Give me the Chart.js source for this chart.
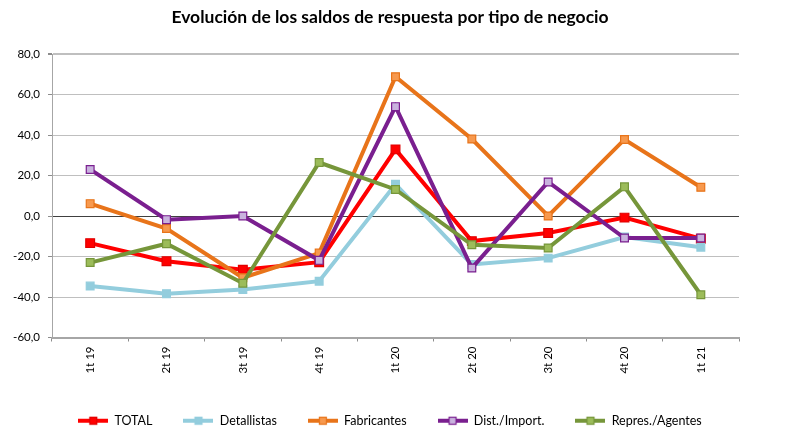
<!DOCTYPE html>
<html>
<head>
<meta charset="utf-8">
<script src="https://cdn.jsdelivr.net/npm/chart.js@4/dist/chart.umd.min.js"></script>
<style>
  html, body { margin: 0; padding: 0; background: #fff; }
  #wrap { width: 800px; height: 441px; position: relative; }
</style>
</head>
<body>
<div id="wrap"><canvas id="c" width="800" height="441"></canvas></div>
<script>
const categories = ['1t 19', '2t 19', '3t 19', '4t 19', '1t 20', '2t 20', '3t 20', '4t 20', '1t 21'];
const total       = [-13.4, -22.3, -26.5, -22.8, 32.9, -12.4, -8.4, -0.8, -11.2];
const detallistas = [-34.6, -38.4, -36.3, -32.2, 15.7, -23.9, -20.8, -10.4, -15.4];
const fabricantes = [6.1, -6.2, -30.5, -18.3, 68.8, 38.0, 0.0, 37.8, 14.2];
const distImport  = [23.0, -1.8, 0.0, -21.9, 54.0, -25.7, 16.8, -10.9, -10.9];
const represAgentes = [-23.0, -13.7, -33.2, 26.4, 13.1, -14.2, -15.8, 14.4, -38.9];
const seriesNames = ['TOTAL', 'Detallistas', 'Fabricantes', 'Dist./Import.', 'Repres./Agentes'];
const yMin = -60, yMax = 80, yStep = 20;

const styles = [
  { line: '#FF0000', fill: '#FF0000', border: '#E00000', r: 6.2 },
  { line: '#93CDDD', fill: '#93CDDD', border: '#93CDDD', r: 5.5 },
  { line: '#E8741A', fill: '#F7994E', border: '#E8741A', r: 5.5 },
  { line: '#7A1F8F', fill: '#C9B3DE', border: '#7A1F8F', r: 5.5 },
  { line: '#76963A', fill: '#9CBC5A', border: '#76963A', r: 5.5 }
];
const seriesData = [total, detallistas, fabricantes, distImport, represAgentes];

function legendImage(s) {
  const cv = document.createElement('canvas');
  cv.width = 30; cv.height = 10;
  const g = cv.getContext('2d');
  g.strokeStyle = s.line; g.lineWidth = 4;
  g.beginPath(); g.moveTo(0, 5); g.lineTo(30, 5); g.stroke();
  g.fillStyle = s.fill; g.fillRect(11, 1, 8, 8);
  g.strokeStyle = s.border; g.lineWidth = 1.2; g.strokeRect(11.5, 1.5, 7, 7);
  return cv;
}

const datasets = seriesNames.map((name, i) => ({
  label: name,
  data: seriesData[i],
  borderColor: styles[i].line,
  backgroundColor: styles[i].fill,
  borderWidth: 4,
  pointStyle: 'rect',
  pointRadius: styles[i].r,
  pointBackgroundColor: styles[i].fill,
  pointBorderColor: styles[i].border,
  pointBorderWidth: 1.2,
  tension: 0,
  order: seriesNames.length - i,
  yAxisID: 'y'
}));

const FONT = 'Lato, "DejaVu Sans", sans-serif';

new Chart(document.getElementById('c'), {
  type: 'line',
  data: { labels: categories, datasets },
  options: {
    responsive: false,
    animation: false,
    layout: { padding: { left: 0, right: 20, top: 0, bottom: 4 } },
    plugins: {
      title: {
        display: true,
        text: 'Evolución de los saldos de respuesta por tipo de negocio',
        font: { family: FONT, size: 17.5, weight: 'bold' },
        color: '#000',
        padding: { top: 7, bottom: 26 }
      },
      legend: {
        position: 'bottom',
        labels: {
          usePointStyle: true,
          pointStyleWidth: 30,
          padding: 31,
          color: '#000',
          font: { family: FONT, size: 12.5 },
          generateLabels: (chart) => chart.data.datasets.map((ds, i) => ({
            text: ds.label,
            pointStyle: legendImage(styles[i]),
            fillStyle: styles[i].fill,
            strokeStyle: styles[i].line,
            lineWidth: 0,
            datasetIndex: i,
            hidden: false,
            fontColor: '#000'
          }))
        }
      },
      tooltip: { enabled: false }
    },
    scales: {
      x: {
        offset: true,
        grid: { display: true, drawOnChartArea: false, drawTicks: true, tickLength: 4, offset: true, color: '#8C8C8C' },
        border: { display: true, color: '#A6A6A6', width: 2 },
        ticks: {
          color: '#000', maxRotation: 90, minRotation: 90, padding: 5,
          font: { family: FONT, size: 11.5 }
        },
        afterFit: (a) => { a.height = 46; }
      },
      y: {
        min: yMin, max: yMax,
        grid: {
          color: (ctx) => ctx.tick && ctx.tick.value === 0 ? '#404040' : '#BFBFBF',
          lineWidth: (ctx) => ctx.tick && ctx.tick.value === yMax ? 2 : 1,
          drawTicks: true, tickLength: 4, tickColor: '#8C8C8C'
        },
        border: { display: true, color: '#A6A6A6', width: 1 },
        ticks: {
          stepSize: yStep, color: '#000', padding: 8,
          font: { family: FONT, size: 11.5 },
          callback: (v) => v.toFixed(1).replace('.', ',')
        },
        afterFit: (a) => { a.width = 52; }
      },
      yRight: {
        position: 'right',
        display: true,
        grid: { display: false },
        border: { display: false },
        ticks: { display: false },
        afterFit: (a) => { a.width = 41; }
      }
    }
  }
});
</script>
</body>
</html>
